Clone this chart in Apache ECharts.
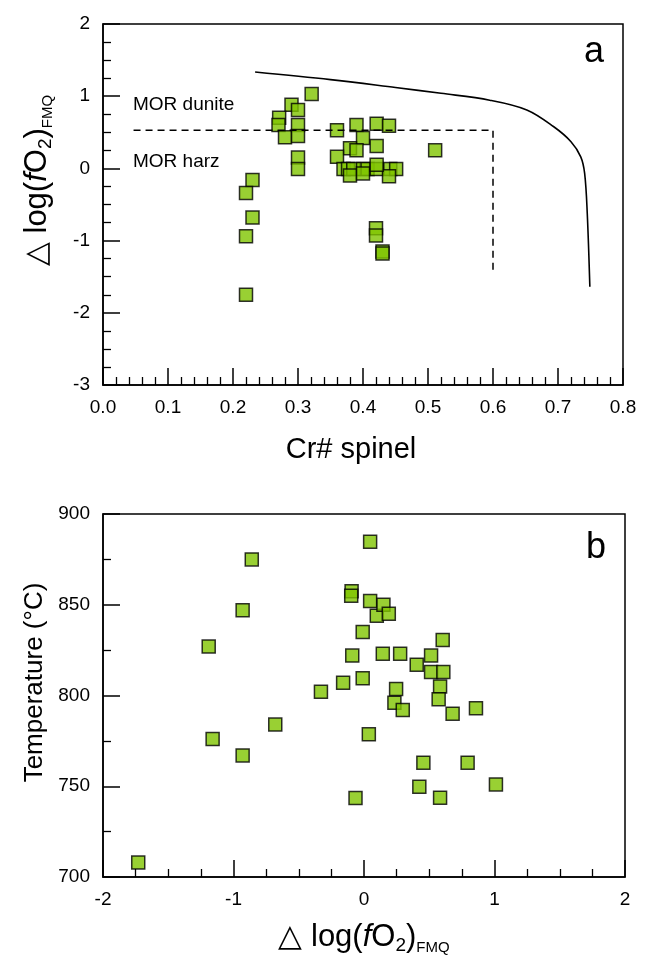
<!DOCTYPE html>
<html><head><meta charset="utf-8">
<script src="https://cdn.jsdelivr.net/npm/echarts@6/dist/echarts.min.js"></script>
<style>html,body{margin:0;padding:0;background:#fff}#c{width:646px;height:955px}</style>
</head><body><div id="c"></div><script>
// Panel a: Cr# spinel vs Δlog(fO2)FMQ
const crA = [0.321,0.290,0.300,0.271,0.270,0.280,0.300,0.300,0.300,0.300,
  0.360,0.390,0.421,0.440,0.400,0.380,0.390,0.421,0.360,
  0.370,0.377,0.385,0.400,0.407,0.421,0.442,0.451,
  0.380,0.400,0.440,0.421,0.511,
  0.230,0.220,0.230,0.220,0.220,
  0.420,0.420,0.430,0.430];
const fo2A = [1.03,0.88,0.81,0.70,0.60,0.43,0.60,0.45,0.15,-0.01,
  0.53,0.60,0.62,0.59,0.42,0.28,0.25,0.31,0.16,
  -0.01,-0.01,-0.01,-0.01,-0.01,-0.01,-0.01,-0.01,
  -0.10,-0.07,-0.11,0.05,0.25,
  -0.16,-0.34,-0.68,-0.94,-1.75,
  -0.83,-0.93,-1.15,-1.18];
// reference curve and MOR boundary (dashed)
const curveX = [0.234,0.35,0.45,0.52,0.595,0.652,0.693,0.72,0.735,0.741,0.745,0.749];
const curveY = [1.335,1.23,1.12,1.04,0.945,0.81,0.58,0.37,0.16,-0.07,-0.62,-1.64];
const morX = [0.047,0.6,0.6];
const morY = [0.53,0.53,-1.41];
// Panel b: Δlog(fO2)FMQ vs Temperature
const fo2B = [-1.73,-1.19,-1.16,-0.93,-0.93,-0.86,-0.68,-0.33,-0.16,-0.095,
  -0.098,-0.09,-0.065,-0.01,-0.01,0.047,0.047,0.037,0.098,0.149,
  0.19,0.144,0.277,0.246,0.233,0.297,0.404,0.424,0.455,0.514,
  0.514,0.603,0.608,0.583,0.572,0.583,0.679,0.794,0.858,1.011];
const tempB = [708,827,776,847,767,875,784,802,807,857.5,
  855,822,743.5,835,809.5,884.7,852,778.6,844,850,
  845,823,823,803.6,796,792,817,749.7,763,822,
  813,830.6,813,805,798,743.7,790,763,793,751];
const xTicksA = [0,0.8,0.1];
const yTicksA = [-3,2,1];
const xTicksB = [-2,2,1];
const yTicksB = [700,900,50];

const F = 'Liberation Sans, Arial, sans-serif';
const zip = (a,b) => a.map((v,i)=>[v,b[i]]);
const fo2Name = '{a|△ log(}{i|f}{a|O}{s|2}{a|)}{t|FMQ}';
const fo2Rich = {
  a:{fontSize:31,fontFamily:F,color:'#000',lineHeight:36},
  i:{fontSize:31,fontFamily:F,fontStyle:'italic',color:'#000',lineHeight:36},
  s:{fontSize:19,fontFamily:F,color:'#000',verticalAlign:'bottom',lineHeight:22},
  t:{fontSize:15,fontFamily:F,color:'#000',verticalAlign:'bottom',lineHeight:20}
};
const blk = {color:'#000',width:1.5};
function axis(gi, t, minor, dec, extra){
  return Object.assign({
    type:'value', gridIndex:gi, min:t[0], max:t[1], interval:t[2],
    axisLine:{show:true,onZero:false,lineStyle:blk},
    axisTick:{show:true,inside:true,length:17,lineStyle:blk},
    minorTick:{show:true,splitNumber:minor,length:8,lineStyle:{color:'#000',width:1.3}},
    splitLine:{show:false}, minorSplitLine:{show:false},
    axisLabel:{fontSize:19,fontFamily:F,color:'#000',margin:13,
      formatter:v=> dec ? v.toFixed(dec) : String(v)},
    nameLocation:'middle'
  }, extra);
}
const sq = {color:'#80c400',borderColor:'#000',borderWidth:1.5};
const chart = echarts.init(document.getElementById('c'));
chart.setOption({
  animation:false,
  backgroundColor:'#fff',
  grid:[
    {left:103,right:23,top:24,height:361,show:true,borderColor:'#000',borderWidth:1.5,outerBoundsMode:'none',containLabel:false},
    {left:103,right:21,top:514,height:363,show:true,borderColor:'#000',borderWidth:1.5,outerBoundsMode:'none',containLabel:false}
  ],
  xAxis:[
    axis(0,xTicksA,5,1,{name:'Cr# spinel',nameGap:50,nameTextStyle:{fontSize:29,fontFamily:F,color:'#000',padding:[0,24,0,0]}}),
    axis(1,xTicksB,4,0,{name:fo2Name,nameGap:42,nameTextStyle:{rich:fo2Rich}})
  ],
  yAxis:[
    axis(0,yTicksA,4,0,{name:fo2Name,nameGap:48,nameRotate:90,nameTextStyle:{rich:fo2Rich,padding:[0,0,0,48]}}),
    axis(1,yTicksB,2,0,{name:'Temperature (°C)',nameGap:54,nameRotate:90,nameTextStyle:{fontSize:26,fontFamily:F,color:'#000',padding:[0,0,0,26]}})
  ],
  series:[
    {type:'line',xAxisIndex:0,yAxisIndex:0,data:zip(curveX,curveY),smooth:0.35,showSymbol:false,
      lineStyle:{color:'#000',width:1.6},silent:true},
    {type:'line',xAxisIndex:0,yAxisIndex:0,data:zip(morX,morY),showSymbol:false,
      lineStyle:{color:'#000',width:1.5,type:[7,5]},silent:true},
    {type:'scatter',xAxisIndex:0,yAxisIndex:0,data:zip(crA,fo2A),symbol:'rect',symbolSize:13,itemStyle:sq},
    {type:'scatter',xAxisIndex:1,yAxisIndex:1,data:zip(fo2B,tempB),symbol:'rect',symbolSize:13,itemStyle:sq}
  ],
  graphic:[
    {type:'text',x:594,y:52,style:{text:'a',font:'36px '+F,fill:'#000',textAlign:'center',textVerticalAlign:'middle'}},
    {type:'text',x:596,y:548,style:{text:'b',font:'36px '+F,fill:'#000',textAlign:'center',textVerticalAlign:'middle'}},
    {type:'text',x:133,y:105,style:{text:'MOR dunite',font:'19px '+F,fill:'#000',textAlign:'left',textVerticalAlign:'middle'}},
    {type:'text',x:133,y:162,style:{text:'MOR harz',font:'19px '+F,fill:'#000',textAlign:'left',textVerticalAlign:'middle'}}
  ]
});
</script></body></html>
